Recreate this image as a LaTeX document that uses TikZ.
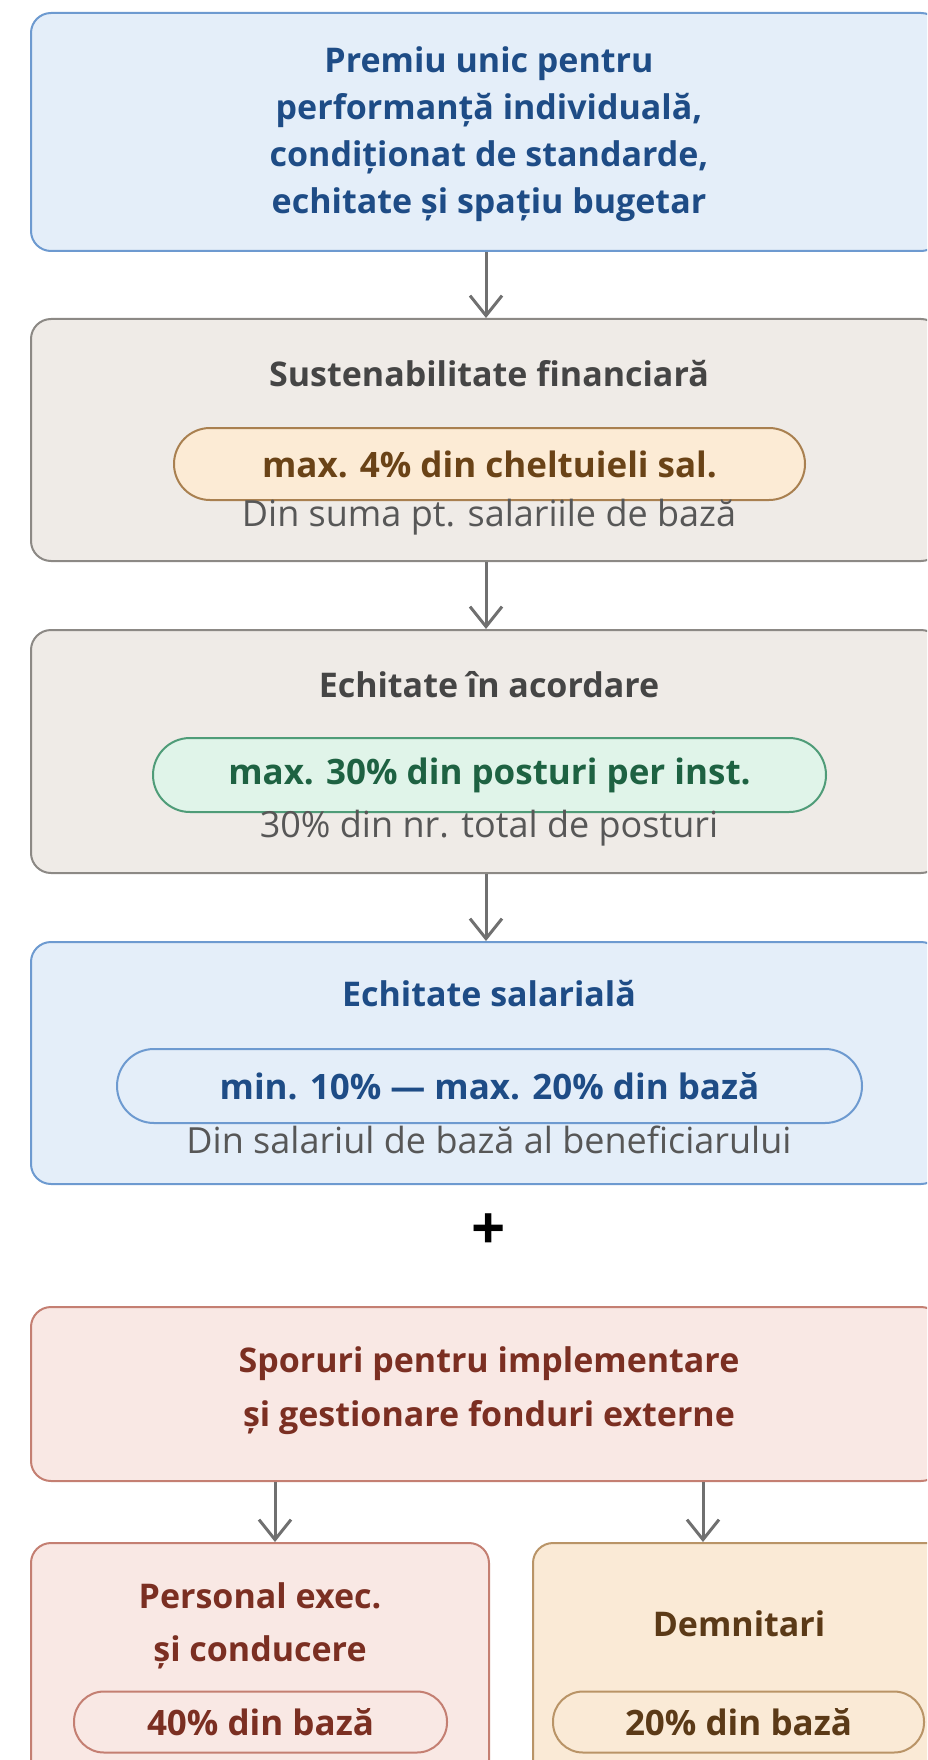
\documentclass[tikz,border=0pt]{standalone}
\usepackage{fontspec}
\setmainfont{Open Sans}
\usetikzlibrary{arrows.meta}
\definecolor{blueFill}{HTML}{E4EEF9}
\definecolor{blueLine}{HTML}{6D9AD0}
\definecolor{blueText}{HTML}{1E4C86}
\definecolor{grayFill}{HTML}{EFEBE7}
\definecolor{grayLine}{HTML}{8C8985}
\definecolor{grayText}{HTML}{454545}
\definecolor{subText}{HTML}{575757}
\definecolor{peachFill}{HTML}{FCEBD5}
\definecolor{peachLine}{HTML}{A98050}
\definecolor{peachText}{HTML}{6A4317}
\definecolor{greenFill}{HTML}{E0F4E9}
\definecolor{greenLine}{HTML}{4F9C78}
\definecolor{greenText}{HTML}{1E6242}
\definecolor{pinkFill}{HTML}{F9E8E4}
\definecolor{pinkLine}{HTML}{C47F72}
\definecolor{pinkText}{HTML}{7B2F22}
\definecolor{sandFill}{HTML}{FAEAD6}
\definecolor{sandLine}{HTML}{B99467}
\definecolor{sandText}{HTML}{5B3A17}
\definecolor{arrGray}{HTML}{707070}
\tikzset{
  card/.style={draw, line width=2pt, rounded corners=20pt, inner sep=0pt},
  pill/.style={draw, line width=2pt, rounded corners=30pt, inner sep=0pt},
  ttl/.style={font=\fontsize{34}{47}\selectfont\bfseries, align=center},
  pilltxt/.style={font=\fontsize{35}{40}\selectfont\bfseries},
  subtxt/.style={font=\fontsize{36}{40}\selectfont, text=subText},
  arr/.style={draw=arrGray, line width=3pt, -{Straight Barb[length=20pt,width=32pt,line width=3pt]}},
}
\begin{document}
\begin{tikzpicture}[x=1pt,y=-1pt]
\useasboundingbox (0,0) rectangle (927,1760);
\clip (0,0) rectangle (927,1760);
% top box
\node[card, fill=blueFill, draw=blueLine, minimum width=910pt, minimum height=238pt] (top) at (486,132) {};
\node[ttl, text=blueText] (toptxt) at (489,134) {Premiu unic pentru\\performanță individuală,\\condiționat de standarde,\\echitate și spațiu bugetar};
% box 2
\node[card, fill=grayFill, draw=grayLine, minimum width=910pt, minimum height=242pt] (b2) at (486,440) {};
\node[ttl, text=grayText] (b2t) at (489,374) {Sustenabilitate financiară};
\node[pill, fill=peachFill, draw=peachLine, minimum width=631pt, minimum height=72pt, rounded corners=36pt] (p2) at (489.5,464) {};
\node[pilltxt, text=peachText] (p2t) at (489.5,464) {max. 4\% din cheltuieli sal.};
\node[subtxt] (s2) at (489,517) {Din suma pt. salariile de bază};
% box 3
\node[card, fill=grayFill, draw=grayLine, minimum width=910pt, minimum height=243pt] (b3) at (486,751.5) {};
\node[ttl, text=grayText] (b3t) at (489,685) {Echitate în acordare};
\node[pill, fill=greenFill, draw=greenLine, minimum width=673pt, minimum height=74pt, rounded corners=37pt] (p3) at (489.5,775) {};
\node[pilltxt, text=greenText] (p3t) at (489.5,775) {max. 30\% din posturi per inst.};
\node[subtxt] (s3) at (489,828) {30\% din nr. total de posturi};
% box 4
\node[card, fill=blueFill, draw=blueLine, minimum width=910pt, minimum height=242pt] (b4) at (486,1063) {};
\node[ttl, text=blueText] (b4t) at (489,994) {Echitate salarială};
\node[pill, fill=blueFill, draw=blueLine, minimum width=745pt, minimum height=74pt, rounded corners=37pt] (p4) at (489.5,1086) {};
\node[pilltxt, text=blueText] (p4t) at (489.5,1086) {min. 10\% — max. 20\% din bază};
\node[subtxt] (s4) at (489,1140) {Din salariul de bază al beneficiarului};
% plus
\node[font=\fontsize{60}{60}\selectfont\bfseries, text=black] (plus) at (489,1232) {+};
% box 5
\node[card, fill=pinkFill, draw=pinkLine, minimum width=910pt, minimum height=174pt] (b5) at (486,1394) {};
\node[ttl, text=pinkText, font=\fontsize{34}{54}\selectfont\bfseries] (b5t) at (489,1391) {Sporuri pentru implementare\\și gestionare fonduri externe};
% box 6
\node[card, fill=pinkFill, draw=pinkLine, minimum width=458pt, minimum height=280pt] (b6) at (260,1683) {};
\node[ttl, text=pinkText, font=\fontsize{34}{53}\selectfont\bfseries] (b6t) at (260,1626) {Personal exec.\\și conducere};
\node[pill, fill=pinkFill, draw=pinkLine, minimum width=373pt, minimum height=61pt, rounded corners=30pt] (p6) at (260.5,1722) {};
\node[pilltxt, text=pinkText] (p6t) at (260.5,1722) {40\% din bază};
% box 7
\node[card, fill=sandFill, draw=sandLine, minimum width=412pt, minimum height=280pt] (b7) at (739,1683) {};
\node[ttl, text=sandText] (b7t) at (739,1624) {Demnitari};
\node[pill, fill=sandFill, draw=sandLine, minimum width=371pt, minimum height=61pt, rounded corners=30pt] (p7) at (738.5,1722) {};
\node[pilltxt, text=sandText] (p7t) at (738.5,1722) {20\% din bază};
% arrows
\draw[arr] (top.south) -- (b2.north);
\draw[arr] (b2.south) -- (b3.north);
\draw[arr] (b3.south) -- (b4.north);
\coordinate (la) at (275,0);
\coordinate (ra) at (703,0);
\draw[arr] (b5.south -| la) -- (b6.north -| la);
\draw[arr] (b5.south -| ra) -- (b7.north -| ra);
\end{tikzpicture}
\end{document}
